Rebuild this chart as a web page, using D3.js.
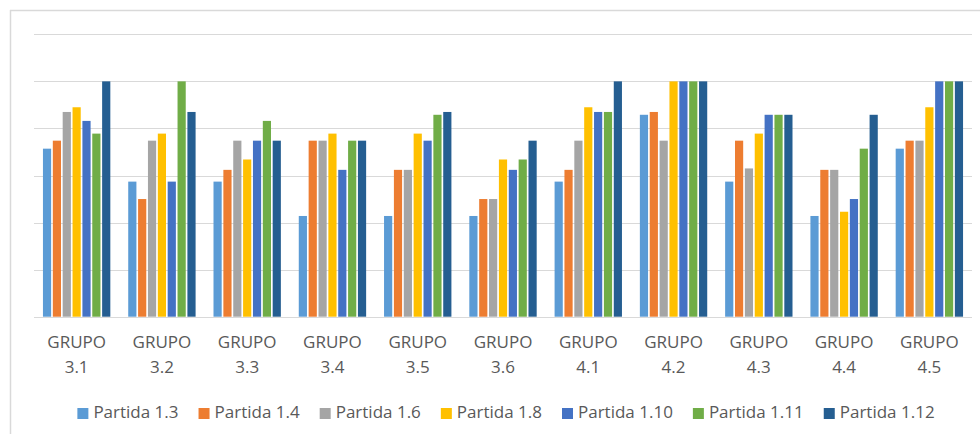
<!DOCTYPE html>
<html>
<head>
<meta charset="utf-8">
<script src="https://cdn.jsdelivr.net/npm/d3@7"></script>
<style>
	html, body { margin: 0; padding: 0; background: #fff; }
	svg { display: block; }
	text { font-family: "Open Sans", sans-serif; fill: #595959; }
</style>
</head>
<body>
<svg id="chart"></svg>
<script>
var groups = ["GRUPO 3.1", "GRUPO 3.2", "GRUPO 3.3", "GRUPO 3.4", "GRUPO 3.5", "GRUPO 3.6",
	"GRUPO 4.1", "GRUPO 4.2", "GRUPO 4.3", "GRUPO 4.4", "GRUPO 4.5"];

var seriesNames = ["Partida 1.3", "Partida 1.4", "Partida 1.6", "Partida 1.8",
	"Partida 1.10", "Partida 1.11", "Partida 1.12"];

var p13  = [3.57, 2.87, 2.87, 2.14, 2.14, 2.14, 2.87, 4.29, 2.87, 2.14, 3.57];
var p14  = [3.74, 2.50, 3.12, 3.74, 3.12, 2.50, 3.12, 4.35, 3.74, 3.12, 3.74];
var p16  = [4.35, 3.74, 3.74, 3.74, 3.12, 2.50, 3.74, 3.74, 3.15, 3.12, 3.74];
var p18  = [4.45, 3.89, 3.34, 3.89, 3.89, 3.34, 4.45, 5.00, 3.89, 2.23, 4.45];
var p110 = [4.16, 2.87, 3.74, 3.12, 3.74, 3.12, 4.35, 5.00, 4.29, 2.50, 5.00];
var p111 = [3.89, 5.00, 4.16, 3.74, 4.29, 3.34, 4.35, 5.00, 4.29, 3.57, 5.00];
var p112 = [5.00, 4.35, 3.74, 3.74, 4.35, 3.74, 5.00, 5.00, 4.29, 4.29, 5.00];

var seriesValues = [p13, p14, p16, p18, p110, p111, p112];
var colors = ["#5B9BD5", "#ED7D31", "#A5A5A5", "#FFC000", "#4472C4", "#70AD47", "#255E91"];

var yTicks = [0, 1, 2, 3, 4, 5, 6];

var W = 980, H = 434;
var plot = {left: 34, right: 972, top: 34.3, bottom: 316.7};

var svg = d3.select("#chart")
	.attr("width", W)
	.attr("height", H);

// chart frame (only top and left edges are visible in the crop)
svg.append("line")
	.attr("x1", 10).attr("x2", W)
	.attr("y1", 10.5).attr("y2", 10.5)
	.attr("stroke", "#d9d9d9").attr("stroke-width", 1.5);
svg.append("line")
	.attr("x1", 10.5).attr("x2", 10.5)
	.attr("y1", 10).attr("y2", H)
	.attr("stroke", "#d9d9d9").attr("stroke-width", 1.5);

var x0 = d3.scaleBand()
	.domain(groups)
	.range([plot.left, plot.right])
	.paddingInner(0.21)
	.paddingOuter(0.105);

var x1 = d3.scaleBand()
	.domain(seriesNames)
	.range([0, x0.bandwidth()])
	.paddingInner(0.17);

var y = d3.scaleLinear()
	.domain([0, 6])
	.range([plot.bottom, plot.top]);

// gridlines
svg.append("g")
	.selectAll("line")
	.data(yTicks)
	.enter()
	.append("line")
	.attr("x1", plot.left)
	.attr("x2", plot.right)
	.attr("y1", function(d) { return Math.round(y(d)) + 0.5; })
	.attr("y2", function(d) { return Math.round(y(d)) + 0.5; })
	.attr("stroke", "#d9d9d9")
	.attr("stroke-width", 1.2);

// bars
var rows = groups.map(function(g, i) {
	return seriesNames.map(function(s, j) {
		return {group: g, series: s, value: seriesValues[j][i], color: colors[j]};
	});
});

svg.append("g")
	.selectAll("g")
	.data(rows)
	.enter()
	.append("g")
	.attr("transform", function(d, i) { return "translate(" + x0(groups[i]) + ",0)"; })
	.selectAll("rect")
	.data(function(d) { return d; })
	.enter()
	.append("rect")
	.attr("x", function(d) { return x1(d.series); })
	.attr("width", x1.bandwidth())
	.attr("y", function(d) { return y(d.value); })
	.attr("height", function(d) { return y(0) - y(d.value); })
	.attr("fill", function(d) { return d.color; });

// category labels (two lines)
var xAxis = d3.axisBottom(x0).tickSize(0).tickFormat("");
var axisG = svg.append("g")
	.attr("transform", "translate(0," + plot.bottom + ")")
	.call(xAxis);
axisG.select(".domain").remove();

axisG.selectAll(".tick").each(function(d) {
	var parts = d.split(" ");
	var t = d3.select(this).append("text")
		.attr("text-anchor", "middle")
		.style("font-size", "17px");
	t.append("tspan").attr("x", 0).attr("y", 31).text(parts[0]);
	t.append("tspan").attr("x", 0).attr("y", 56).text(parts[1]);
});

// legend
var legend = svg.append("g");
var items = legend.selectAll("g")
	.data(seriesNames)
	.enter()
	.append("g");

items.append("rect")
	.attr("width", 11)
	.attr("height", 11)
	.attr("y", 408)
	.attr("fill", function(d, i) { return colors[i]; });

items.append("text")
	.attr("x", 16)
	.attr("y", 418)
	.style("font-size", "17px")
	.text(function(d) { return d; });

var gap = 20, cursor = 0, widths = [];
items.each(function() {
	widths.push(16 + d3.select(this).select("text").node().getComputedTextLength());
});
var total = d3.sum(widths) + gap * (widths.length - 1);
cursor = 506 - total / 2;
items.attr("transform", function(d, i) {
	var tx = cursor;
	cursor += widths[i] + gap;
	return "translate(" + tx + ",0)";
});
</script>
</body>
</html>
